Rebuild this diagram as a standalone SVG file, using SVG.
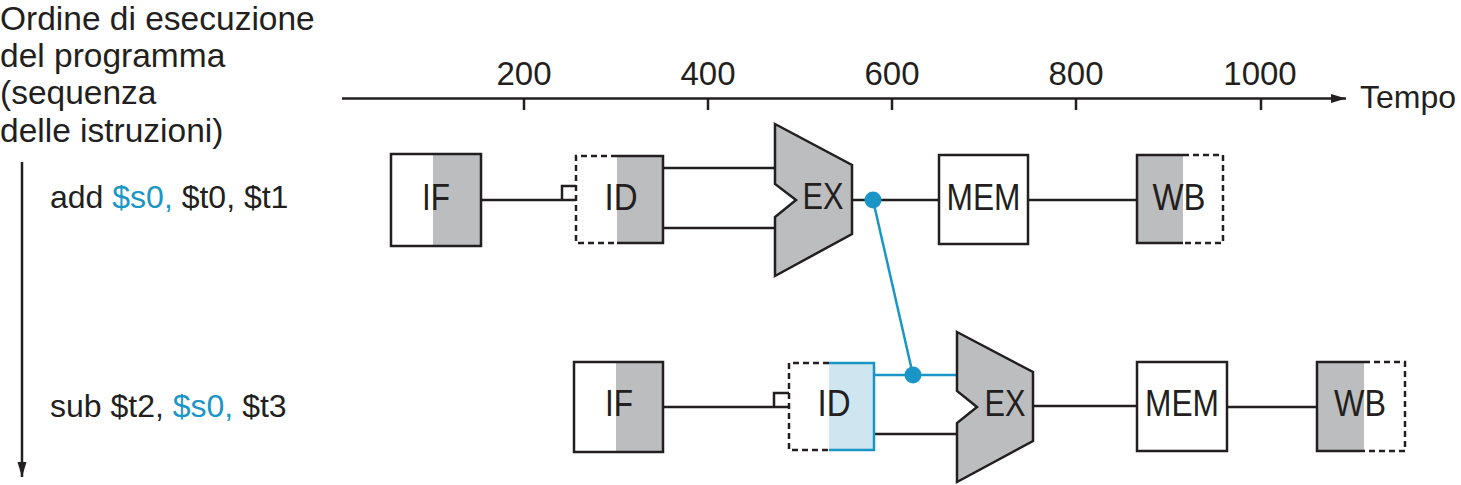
<svg xmlns="http://www.w3.org/2000/svg" width="1461" height="485" viewBox="0 0 1461 485">
<defs>
<marker id="arr" markerWidth="15" markerHeight="10" refX="15" refY="5" orient="auto" markerUnits="userSpaceOnUse"><path d="M0,0.5 L15,5 L0,9.5 z" fill="#231f20"/></marker>
<style>
text{font-family:"Liberation Sans",Arial,Helvetica,sans-serif;font-size:32px;fill:#231f20}
.t{font-size:33.5px}
.ax{font-size:33px}
.st{font-size:36px}
.c{text-anchor:middle}
.ln{stroke:#231f20;stroke-width:2.5;fill:none}
.bl{stroke:#1a96c6;stroke-width:2.5;fill:none}
.gray{fill:#bcbdbf}
.white{fill:#ffffff}
.lb{fill:#cfe5ef}
.box{fill:none;stroke:#231f20;stroke-width:2.5}
.dash{fill:none;stroke:#231f20;stroke-width:2.5;stroke-dasharray:6 4}
.alu{fill:#bcbdbf;stroke:#231f20;stroke-width:2.5;stroke-linejoin:miter}
.dot{fill:#1a96c6}
.hl{fill:#1a96c6}
</style>
</defs>
<rect x="0" y="0" width="1461" height="485" fill="#ffffff"/>

<g id="title">
<text class="t" x="0" y="30">Ordine di esecuzione</text>
<text class="t" x="0" y="67">del programma</text>
<text class="t" x="0" y="104">(sequenza</text>
<text class="t" x="0" y="142">delle istruzioni)</text>
</g>

<g id="time-axis">
<line class="ln" x1="342" y1="98.5" x2="1346" y2="98.5" marker-end="url(#arr)"/>
<line class="ln" x1="524" y1="98.5" x2="524" y2="110"/>
<line class="ln" x1="708" y1="98.5" x2="708" y2="110"/>
<line class="ln" x1="892" y1="98.5" x2="892" y2="110"/>
<line class="ln" x1="1076" y1="98.5" x2="1076" y2="110"/>
<line class="ln" x1="1261" y1="98.5" x2="1261" y2="110"/>
<text class="c ax" x="524" y="85">200</text>
<text class="c ax" x="708" y="85">400</text>
<text class="c ax" x="892" y="85">600</text>
<text class="c ax" x="1076" y="85">800</text>
<text class="c ax" x="1260" y="85">1000</text>
<text x="1360" y="108">Tempo</text>
</g>

<g id="order-axis">
<line class="ln" x1="22" y1="162" x2="22" y2="477" marker-end="url(#arr)"/>
</g>

<g id="instr-add">
<text x="50" y="208">add <tspan class="hl">$s0,</tspan> $t0, $t1</text>
</g>
<g id="instr-sub">
<text x="50" y="417">sub $t2, <tspan class="hl">$s0,</tspan> $t3</text>
</g>

<g id="connectors">
<line class="ln" x1="481" y1="200" x2="576" y2="200"/>
<path class="ln" d="M562,200 V186 H576"/>
<line class="ln" x1="663" y1="168" x2="775" y2="168"/>
<line class="ln" x1="663" y1="228" x2="775" y2="228"/>
<line class="ln" x1="852" y1="200" x2="939" y2="200"/>
<line class="ln" x1="1028" y1="200" x2="1137" y2="200"/>
<line class="ln" x1="663" y1="407" x2="789" y2="407"/>
<path class="ln" d="M774,407 V393 H789"/>
<line class="bl" x1="874" y1="375" x2="957" y2="375"/>
<line class="ln" x1="874" y1="434" x2="957" y2="434"/>
<line class="ln" x1="1033" y1="406" x2="1137" y2="406"/>
<line class="ln" x1="1227" y1="407" x2="1317" y2="407"/>
<line class="bl" x1="873" y1="200" x2="913" y2="375"/>
<circle class="dot" cx="873" cy="200" r="8.5"/>
<circle class="dot" cx="913" cy="375" r="8.5"/>
</g>

<g id="if1">
<rect class="white" x="391" y="154" width="90" height="92"/>
<rect class="gray" x="433" y="154" width="48" height="92"/>
<rect class="box" x="391" y="154" width="90" height="92"/>
<text class="c st" x="436" y="210" textLength="28" lengthAdjust="spacingAndGlyphs">IF</text>
</g>
<g id="id1">
<rect class="gray" x="617" y="156" width="46" height="87"/>
<path class="box" d="M617,156 H663 V243 H617"/>
<path class="dash" d="M617,156 H576 V243 H617"/>
<text class="c st" x="621" y="210" textLength="33" lengthAdjust="spacingAndGlyphs">ID</text>
</g>
<g id="ex1">
<polygon class="alu" points="775,124 852,165 852,234 775,276 775,217 796,200 775,184"/>
<text class="c st" x="823" y="209" textLength="41" lengthAdjust="spacingAndGlyphs">EX</text>
</g>
<g id="mem1">
<rect class="white" x="939" y="155" width="89" height="89"/>
<rect class="box" x="939" y="155" width="89" height="89"/>
<text class="c st" x="983.5" y="210" textLength="74" lengthAdjust="spacingAndGlyphs">MEM</text>
</g>
<g id="wb1">
<rect class="gray" x="1137" y="155" width="46" height="88"/>
<path class="box" d="M1183,155 H1137 V243 H1183"/>
<path class="dash" d="M1183,155 H1223 V243 H1183"/>
<text class="c st" x="1179" y="210" textLength="53" lengthAdjust="spacingAndGlyphs">WB</text>
</g>

<g id="if2">
<rect class="white" x="574" y="362" width="89" height="90"/>
<rect class="gray" x="616" y="362" width="47" height="90"/>
<rect class="box" x="574" y="362" width="89" height="90"/>
<text class="c st" x="619" y="416" textLength="28" lengthAdjust="spacingAndGlyphs">IF</text>
</g>
<g id="id2">
<rect class="lb" x="829" y="363" width="45" height="87"/>
<path class="bl" d="M829,363 H874 V450 H829"/>
<path class="dash" d="M829,363 H789 V450 H829"/>
<text class="c st" x="834" y="416" textLength="33" lengthAdjust="spacingAndGlyphs">ID</text>
</g>
<g id="ex2">
<polygon class="alu" points="957,332 1033,372 1033,441 957,482 957,423 977,407 957,391"/>
<text class="c st" x="1005" y="416" textLength="41" lengthAdjust="spacingAndGlyphs">EX</text>
</g>
<g id="mem2">
<rect class="white" x="1137" y="362" width="90" height="89"/>
<rect class="box" x="1137" y="362" width="90" height="89"/>
<text class="c st" x="1182" y="416" textLength="74" lengthAdjust="spacingAndGlyphs">MEM</text>
</g>
<g id="wb2">
<rect class="gray" x="1317" y="362" width="47" height="89"/>
<path class="box" d="M1364,362 H1317 V451 H1364"/>
<path class="dash" d="M1364,362 H1405 V451 H1364"/>
<text class="c st" x="1360" y="416" textLength="52" lengthAdjust="spacingAndGlyphs">WB</text>
</g>
</svg>
